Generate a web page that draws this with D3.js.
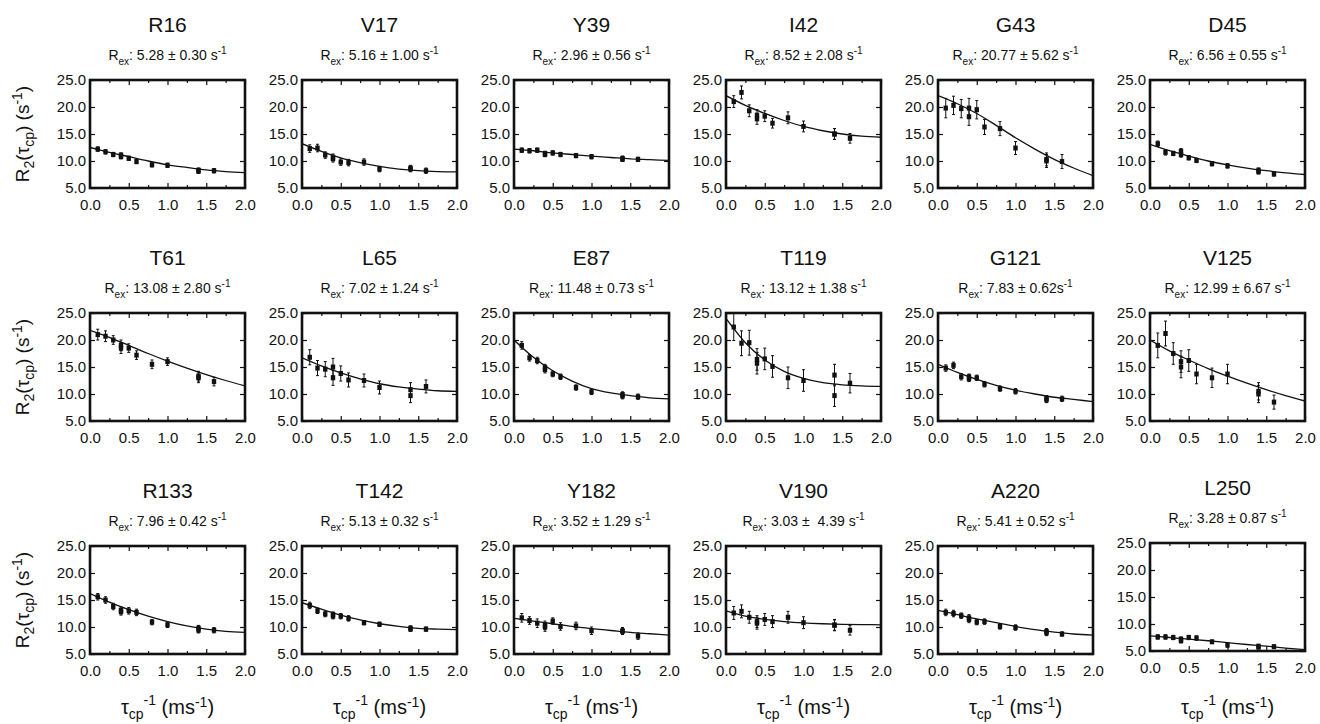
<!DOCTYPE html>
<html><head><meta charset="utf-8">
<script src="https://cdn.jsdelivr.net/npm/d3@7"></script>
<style>body{margin:0;background:#fff}svg{display:block}text{font-family:"Liberation Sans",Arial,sans-serif;fill:#111}</style>
</head><body><svg id="c" width="1320" height="724"></svg>
<script>
// ---- data ----
const residues = ["R16","V17","Y39","I42","G43","D45","T61","L65","E87","T119","G121","V125","R133","T142","Y182","V190","A220","L250"];
const rexText = ["5.28 ± 0.30 s","5.16 ± 1.00 s","2.96 ± 0.56 s","8.52 ± 2.08 s","20.77 ± 5.62 s","6.56 ± 0.55 s",
  "13.08 ± 2.80 s","7.02 ± 1.24 s","11.48 ± 0.73 s","13.12 ± 1.38 s","7.83 ± 0.62s","12.99 ± 6.67 s",
  "7.96 ± 0.42 s","5.13 ± 0.32 s","3.52 ± 1.29 s","3.03 ±\u00A0 4.39 s","5.41 ± 0.52 s","3.28 ± 0.87 s"];
const xPoints = [0.1,0.2,0.3,0.4,0.4,0.5,0.6,0.8,1.0,1.4,1.4,1.6];
const r2Values = [
  [12.2,11.7,11.2,11.1,10.8,10.5,9.9,9.3,9.2,8.3,8.1,8.2],
  [12.3,12.4,11.1,10.7,10.4,9.8,9.7,9.8,8.5,8.7,8.5,8.2],
  [12.0,11.9,12.0,11.4,11.2,11.5,11.2,11.0,10.8,10.5,10.3,10.3],
  [21.0,22.7,19.3,18.5,17.8,18.3,17.0,18.0,16.4,15.0,15.0,14.2],
  [19.8,20.3,19.7,19.8,18.2,19.5,16.3,16.0,12.4,10.3,10.0,9.9],
  [13.2,11.6,11.4,11.8,11.2,10.6,10.1,9.5,9.1,8.3,8.0,7.6],
  [21.0,20.7,20.0,19.0,18.5,18.5,17.2,15.5,16.0,13.3,13.0,12.3],
  [16.8,14.8,14.6,15.0,13.0,13.8,12.6,12.5,11.2,10.8,9.7,11.4],
  [19.0,16.7,16.2,14.9,14.5,13.7,13.2,11.2,10.4,9.9,9.6,9.5],
  [22.4,19.4,19.5,15.7,16.4,16.5,15.1,13.0,12.5,13.5,9.7,12.0],
  [14.8,15.3,13.2,12.8,13.2,13.0,11.8,11.0,10.5,9.2,8.9,9.1],
  [19.0,21.2,17.5,15.0,16.0,16.2,13.7,13.0,13.7,10.5,10.0,8.5],
  [15.6,15.0,13.8,13.1,12.8,13.0,12.7,10.9,10.4,9.8,9.4,9.4],
  [14.0,13.0,12.4,12.3,12.0,12.0,11.6,10.8,10.5,9.8,9.6,9.6],
  [11.7,11.2,10.7,10.3,10.0,11.1,10.1,10.2,9.3,9.3,9.2,8.3],
  [12.6,12.9,11.8,10.7,11.0,11.4,11.0,11.8,10.8,10.4,10.3,9.4],
  [12.7,12.5,12.1,11.7,11.4,10.9,11.0,10.1,9.9,9.2,8.9,8.7],
  [7.6,7.6,7.5,7.2,6.9,7.5,7.4,6.7,6.1,5.9,5.7,5.8]
];
const r2Errors = [
  [0.4,0.4,0.4,0.4,0.4,0.4,0.4,0.4,0.4,0.4,0.4,0.4],
  [0.7,0.7,0.6,0.6,0.6,0.6,0.6,0.6,0.5,0.5,0.5,0.5],
  [0.4,0.4,0.4,0.4,0.4,0.4,0.4,0.4,0.4,0.4,0.4,0.4],
  [1.1,1.2,1.1,1.0,1.0,1.0,0.9,1.1,1.0,1.0,1.0,0.9],
  [1.8,1.7,1.7,1.8,1.6,1.7,1.4,1.3,1.2,1.2,1.2,1.3],
  [0.5,0.5,0.4,0.5,0.5,0.4,0.4,0.4,0.4,0.4,0.4,0.4],
  [1.0,1.0,0.8,1.0,1.0,0.8,0.8,0.8,0.7,0.9,0.9,0.8],
  [1.4,1.4,1.4,1.6,1.4,1.4,1.3,1.2,1.2,1.3,1.3,1.2],
  [0.7,0.6,0.6,0.6,0.6,0.5,0.5,0.5,0.5,0.5,0.5,0.5],
  [2.5,2.3,2.3,2.0,2.0,2.0,2.0,2.0,2.0,2.0,2.0,1.8],
  [0.6,0.6,0.6,0.5,0.5,0.5,0.5,0.5,0.5,0.5,0.5,0.5],
  [2.3,2.3,2.0,2.0,2.0,2.0,1.8,1.8,1.8,1.6,1.6,1.3],
  [0.6,0.6,0.6,0.6,0.6,0.6,0.6,0.5,0.5,0.5,0.5,0.5],
  [0.6,0.5,0.5,0.5,0.5,0.5,0.5,0.4,0.4,0.4,0.4,0.4],
  [0.8,0.7,0.8,0.8,0.8,0.6,0.7,0.7,0.7,0.6,0.6,0.6],
  [1.2,1.2,1.1,1.1,1.1,1.1,1.1,1.1,1.1,1.0,1.0,0.9],
  [0.6,0.6,0.5,0.6,0.6,0.5,0.5,0.5,0.5,0.5,0.5,0.4],
  [0.4,0.4,0.4,0.4,0.4,0.4,0.4,0.3,0.4,0.3,0.3,0.3]
];
// fitted curves at these x positions
const fitX = [0,0.25,0.5,0.75,1.0,1.25,1.5,1.75,2.0];
const fitValues = [
  [12.5,11.6,10.8,10.0,9.3,8.8,8.35,8.05,7.85],
  [13.2,11.8,10.6,9.7,9.0,8.5,8.2,8.05,8.0],
  [12.2,11.9,11.5,11.2,10.9,10.65,10.4,10.25,10.1],
  [22.1,20.3,18.8,17.5,16.4,15.6,15.0,14.6,14.4],
  [22.1,20.6,18.8,16.6,14.3,12.2,10.3,8.7,7.3],
  [13.1,11.9,10.9,10.0,9.3,8.7,8.2,7.8,7.5],
  [21.8,20.5,19.0,17.5,16.1,14.8,13.6,12.5,11.5],
  [16.7,15.2,13.9,12.8,11.9,11.3,10.9,10.6,10.5],
  [20.0,16.8,14.3,12.4,11.0,10.2,9.7,9.3,9.1],
  [24.0,19.5,16.3,14.2,12.9,12.1,11.7,11.5,11.4],
  [15.5,14.0,12.7,11.6,10.7,10.0,9.4,9.0,8.6],
  [20.0,18.0,16.3,14.7,13.3,12.0,10.8,9.7,8.7],
  [16.2,14.6,13.2,12.0,11.0,10.2,9.6,9.2,9.0],
  [14.5,13.3,12.2,11.3,10.6,10.1,9.75,9.6,9.5],
  [11.6,11.1,10.6,10.1,9.7,9.35,9.0,8.75,8.5],
  [13.0,12.0,11.4,11.0,10.75,10.6,10.5,10.45,10.4],
  [13.1,12.3,11.5,10.8,10.1,9.5,9.05,8.7,8.5],
  [7.8,7.5,7.2,6.9,6.55,6.2,5.9,5.55,5.25]
];
const xTicks = [0,0.5,1.0,1.5,2.0];
const xMinor = [0.25,0.75,1.25,1.75];
const yTicks = [5,10,15,20,25];

// ---- layout ----
const svg = d3.select("#c");
const plotW = 155, plotH = 108;
const colLeft = i => 90 + i*212;
const rowTop = [80, 313, 546];
const x = d3.scaleLinear().domain([0,2]).range([0,plotW]);
const y = d3.scaleLinear().domain([5,25]).range([plotH,0]);
const fmt = d3.format(".1f");
const FONT = "'Liberation Sans',Arial,sans-serif";

residues.forEach((name, k) => {
  const c = k % 6, r = Math.floor(k/6);
  const dy = (k === 17) ? -3 : 0;
  const g = svg.append("g").attr("transform", `translate(${colLeft(c)},${rowTop[r]+dy})`);
  const cx = plotW/2;
  g.append("text").attr("x", cx).attr("y", -48).attr("text-anchor","middle")
    .style("font-size","21px").text(name);
  const rt = g.append("text").attr("x", cx).attr("y", -20).attr("text-anchor","middle").style("font-size","14px");
  rt.append("tspan").text("R");
  rt.append("tspan").attr("dy",5).style("font-size","10px").text("ex");
  rt.append("tspan").attr("dy",-5).text(": " + rexText[k]);
  rt.append("tspan").attr("dy",-6).style("font-size","10px").text("-1");

  // axes
  const ax = (axis, tr) => g.append("g").attr("transform", tr).call(axis)
    .call(s => s.select(".domain").remove())
    .call(s => s.selectAll("line").attr("stroke","#111").attr("stroke-width",1.2))
    .call(s => s.selectAll("text").style("font-size","15px").style("font-family",FONT).attr("fill","#111"));
  ax(d3.axisBottom(x).tickValues(xTicks).tickFormat(fmt).tickSizeInner(-5).tickSizeOuter(0).tickPadding(11), `translate(0,${plotH})`);
  ax(d3.axisBottom(x).tickValues(xMinor).tickFormat("").tickSizeInner(-3).tickSizeOuter(0), `translate(0,${plotH})`);
  ax(d3.axisTop(x).tickValues(xTicks).tickFormat("").tickSizeInner(-5).tickSizeOuter(0), `translate(0,0)`);
  ax(d3.axisTop(x).tickValues(xMinor).tickFormat("").tickSizeInner(-3).tickSizeOuter(0), `translate(0,0)`);
  ax(d3.axisLeft(y).tickValues(yTicks).tickFormat(fmt).tickSizeInner(-5).tickSizeOuter(0).tickPadding(4), `translate(0,0)`);
  ax(d3.axisRight(y).tickValues(yTicks).tickFormat("").tickSizeInner(-5).tickSizeOuter(0), `translate(${plotW},0)`);

  // fit curve
  const clipId = "clip"+k;
  g.append("clipPath").attr("id", clipId).append("rect").attr("width",plotW).attr("height",plotH);
  const line = d3.line().x((d,i)=>x(fitX[i])).y(d=>y(d)).curve(d3.curveMonotoneX);
  g.append("path").attr("d", line(fitValues[k])).attr("fill","none").attr("stroke","#111")
    .attr("stroke-width",1.3).attr("clip-path",`url(#${clipId})`);

  // points and error bars
  const pts = xPoints.map((xv,i)=>({x:xv, y:r2Values[k][i], e:r2Errors[k][i]}));
  const eb = g.append("g").attr("stroke","#111").attr("stroke-width",1);
  eb.selectAll("line.v").data(pts).join("line").attr("class","v")
    .attr("x1",d=>x(d.x)).attr("x2",d=>x(d.x)).attr("y1",d=>y(d.y-d.e)).attr("y2",d=>y(d.y+d.e));
  eb.selectAll("line.t").data(pts).join("line").attr("class","t")
    .attr("x1",d=>x(d.x)-1.5).attr("x2",d=>x(d.x)+1.5).attr("y1",d=>y(d.y+d.e)).attr("y2",d=>y(d.y+d.e));
  eb.selectAll("line.b").data(pts).join("line").attr("class","b")
    .attr("x1",d=>x(d.x)-1.5).attr("x2",d=>x(d.x)+1.5).attr("y1",d=>y(d.y-d.e)).attr("y2",d=>y(d.y-d.e));
  g.append("g").selectAll("rect").data(pts).join("rect")
    .attr("x",d=>x(d.x)-2.2).attr("y",d=>y(d.y)-2.5).attr("width",4.4).attr("height",5).attr("fill","#111");

  // frame
  g.append("rect").attr("width",plotW).attr("height",plotH).attr("fill","none")
    .attr("stroke","#111").attr("stroke-width",2.6);

  // y label on first column
  if (c === 0) {
    const yl = svg.append("text").attr("transform",`translate(29,${rowTop[r]+plotH/2}) rotate(-90)`)
      .attr("text-anchor","middle").style("font-size","19px");
    yl.append("tspan").text("R");
    yl.append("tspan").attr("dy",5).style("font-size","14px").text("2");
    yl.append("tspan").attr("dy",-5).text("(τ");
    yl.append("tspan").attr("dy",5).style("font-size","14px").text("cp");
    yl.append("tspan").attr("dy",-5).text(") (s");
    yl.append("tspan").attr("dy",-7).style("font-size","14px").text("-1");
    yl.append("tspan").attr("dy",7).text(")");
  }
  // x label on last row
  if (r === 2) {
    const xl = g.append("text").attr("x", cx).attr("y", 714 - rowTop[r] - dy).attr("text-anchor","middle").style("font-size","20px");
    xl.append("tspan").text("τ");
    xl.append("tspan").attr("dy",5).style("font-size","14px").text("cp");
    xl.append("tspan").attr("dy",-14).style("font-size","14px").text("-1");
    xl.append("tspan").attr("dy",9).text(" (ms");
    xl.append("tspan").attr("dy",-7).style("font-size","14px").text("-1");
    xl.append("tspan").attr("dy",7).text(")");
  }
});
</script></body></html>
